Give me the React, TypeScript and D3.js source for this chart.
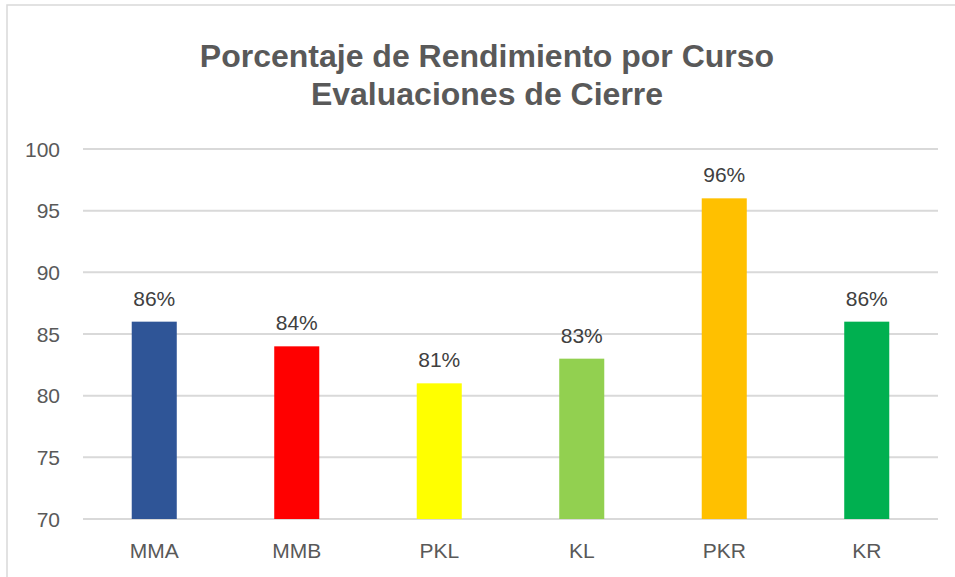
import React from "react";
import * as d3 from "d3";

const cursos = ["MMA", "MMB", "PKL", "KL", "PKR", "KR"];
const rendimiento = [86, 84, 81, 83, 96, 86];
const colores = ["#2F5597", "#FF0000", "#FFFF00", "#92D050", "#FFC000", "#00B050"];
const ticksY = [70, 75, 80, 85, 90, 95, 100];
const titulo = ["Porcentaje de Rendimiento por Curso", "Evaluaciones de Cierre"];

const W = 955;
const H = 577;
const font = "'Liberation Sans', Arial, sans-serif";

export default function App() {
  const plot = { left: 83, right: 938, top: 149, bottom: 519 };

  const x = d3
    .scaleBand<string>()
    .domain(cursos)
    .range([plot.left, plot.right])
    .paddingInner(0.684)
    .paddingOuter(0.342);

  const y = d3.scaleLinear().domain([70, 100]).range([plot.bottom, plot.top]);

  return (
    <svg
      width={W}
      height={H}
      style={{ position: "absolute", left: 0, top: 0, background: "#fff" }}
    >
      <rect x={7} y={5} width={1000} height={1000} fill="#fff" stroke="#D9D9D9" strokeWidth={1.5} />

      {/* titulo */}
      <g fontFamily={font} fontWeight="bold" fontSize={32} fill="#595959" textAnchor="middle">
        {titulo.map((t, i) => (
          <text key={t} x={487} y={67 + i * 38}>
            {t}
          </text>
        ))}
      </g>

      {/* lineas de la grilla */}
      {ticksY.map((t) => (
        <g key={t}>
          <line x1={plot.left} x2={plot.right} y1={y(t)} y2={y(t)} stroke="#D9D9D9" strokeWidth={2} />
          <text
            x={60}
            y={y(t)}
            dy="0.36em"
            textAnchor="end"
            fontFamily={font}
            fontSize={21}
            fill="#595959"
          >
            {t}
          </text>
        </g>
      ))}

      {/* barras */}
      {cursos.map((c, i) => (
        <rect
          key={c}
          x={x(c)}
          y={y(rendimiento[i])}
          width={x.bandwidth()}
          height={y(70) - y(rendimiento[i])}
          fill={colores[i]}
        />
      ))}

      {/* etiquetas de datos */}
      {cursos.map((c, i) => (
        <text
          key={c}
          x={(x(c) ?? 0) + x.bandwidth() / 2}
          y={y(rendimiento[i]) - 16}
          textAnchor="middle"
          fontFamily={font}
          fontSize={21}
          fill="#404040"
        >
          {rendimiento[i]}%
        </text>
      ))}

      {/* categorias */}
      {cursos.map((c) => (
        <text
          key={c}
          x={(x(c) ?? 0) + x.bandwidth() / 2}
          y={558}
          textAnchor="middle"
          fontFamily={font}
          fontSize={21}
          fill="#595959"
        >
          {c}
        </text>
      ))}
    </svg>
  );
}
